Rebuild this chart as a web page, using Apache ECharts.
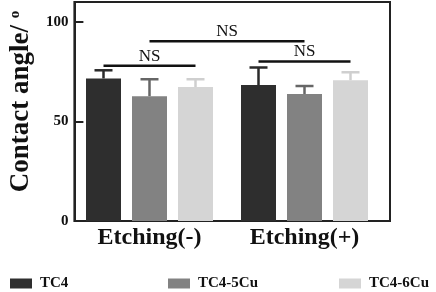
<!DOCTYPE html>
<html>
<head>
<meta charset="utf-8">
<script src="https://cdn.jsdelivr.net/npm/echarts@6/dist/echarts.min.js"></script>
<style>
  html, body { margin: 0; padding: 0; background: #fff; }
  #chart { width: 436px; height: 292px; }
</style>
</head>
<body>
<div id="chart"></div>
<script>
// data
const categories = ['Etching(-)', 'Etching(+)'];
const seriesNames = ['TC4', 'TC4-5Cu', 'TC4-6Cu'];
const tc4 = [71.6, 68.3];
const tc45Cu = [62.7, 63.8];
const tc46Cu = [67.3, 70.7];
const tc4Sd = [4.1, 8.8];
const tc45CuSd = [8.5, 4.0];
const tc46CuSd = [3.9, 4.0];
const yMax = 110;
const yStep = 50;
// significance brackets: [fromCategory, fromBar, toCategory, toBar, level]
const brackets = [
  [0, 0, 0, 2, 78],
  [0, 1, 1, 1, 90.3],
  [1, 0, 1, 2, 80.1]
];
const bracketLabel = 'NS';

const colors = ['#2e2e2e', '#828282', '#d5d5d5'];
const FONT = 'Liberation Serif';
const BAR_W = 35;
const BAR_GAP = 11;

const means = [tc4, tc45Cu, tc46Cu];
const sds = [tc4Sd, tc45CuSd, tc46CuSd];

const barOffset = (i) => (i - 1) * (BAR_W + BAR_GAP);

// error bar items: [category, barIndex, mean, sd]
const errData = [];
means.forEach((arr, s) => {
  arr.forEach((v, c) => errData.push([c, s, v, sds[s][c]]));
});

const chart = echarts.init(document.getElementById('chart'));

const legendAt = (name, left) => ({
  data: [name],
  left: left,
  top: 276,
  padding: 0,
  icon: 'rect',
  itemWidth: 22,
  itemHeight: 10,
  textStyle: {
    fontFamily: FONT,
    fontWeight: 'bold',
    fontSize: 15,
    color: '#111',
    padding: [0, 0, 0, 3]
  }
});

const option = {
  animation: false,
  backgroundColor: '#fff',
  grid: [
    { left: 61, right: 46, top: 2, bottom: 71, show: true, borderColor: '#222', borderWidth: 2 },
    { left: 72, right: 54, top: 2, bottom: 71 }
  ],
  legend: [
    legendAt('TC4', 10),
    legendAt('TC4-5Cu', 168),
    legendAt('TC4-6Cu', 339)
  ],
  xAxis: [
    { type: 'value', gridIndex: 0, show: false, min: 0, max: 1 },
    {
      type: 'category',
      gridIndex: 1,
      data: categories,
      axisLine: { show: false },
      axisTick: { show: false },
      axisLabel: {
        margin: 5,
        fontFamily: FONT,
        fontWeight: 'bold',
        fontSize: 24,
        color: '#111'
      }
    }
  ],
  yAxis: [
    {
      type: 'value',
      gridIndex: 0,
      min: 0,
      max: yMax,
      interval: yStep,
      name: 'Contact angle/ {sup|o}',
      nameLocation: 'middle',
      nameGap: 32,
      nameTextStyle: {
        fontFamily: FONT,
        fontWeight: 'bold',
        fontSize: 27,
        color: '#111',
        padding: [0, 0, 0, 20],
        rich: {
          sup: {
            fontFamily: FONT,
            fontWeight: 'bold',
            fontSize: 15,
            color: '#111',
            verticalAlign: 'top'
          }
        }
      },
      axisLine: { show: true, lineStyle: { color: '#222', width: 2 } },
      axisTick: { show: true, inside: true, length: 9, lineStyle: { color: '#222', width: 2 } },
      splitLine: { show: false },
      axisLabel: {
        margin: 6,
        fontFamily: FONT,
        fontWeight: 'bold',
        fontSize: 15,
        color: '#111',
        formatter: (v) => (v % yStep === 0 ? String(v) : '')
      }
    },
    { type: 'value', gridIndex: 1, min: 0, max: yMax, show: false }
  ],
  series: [
    ...seriesNames.map((name, i) => ({
      name: name,
      type: 'bar',
      xAxisIndex: 1,
      yAxisIndex: 1,
      data: means[i],
      barWidth: BAR_W,
      barGap: (BAR_GAP / BAR_W * 100) + '%',
      itemStyle: { color: colors[i] }
    })),
    {
      type: 'custom',
      xAxisIndex: 1,
      yAxisIndex: 1,
      data: errData,
      encode: { x: 0, y: 2 },
      z: 3,
      renderItem: function (params, api) {
        const c = api.value(0);
        const s = api.value(1);
        const m = api.value(2);
        const sd = api.value(3);
        const base = api.coord([c, m]);
        const top = api.coord([c, m + sd]);
        const x = base[0] + barOffset(s);
        const color = s === 2 ? '#cfcfcf' : (s === 1 ? '#666' : '#2a2a2a');
        const style = { stroke: color, lineWidth: 2.5 };
        return {
          type: 'group',
          children: [
            { type: 'line', shape: { x1: x, y1: base[1], x2: x, y2: top[1] }, style: style },
            { type: 'line', shape: { x1: x - 9, y1: top[1], x2: x + 9, y2: top[1] }, style: style }
          ]
        };
      }
    },
    {
      type: 'custom',
      xAxisIndex: 1,
      yAxisIndex: 1,
      data: brackets,
      encode: { x: [0, 2], y: 4 },
      z: 4,
      renderItem: function (params, api) {
        const level = api.value(4);
        const p1 = api.coord([api.value(0), level]);
        const p2 = api.coord([api.value(2), level]);
        const x1 = p1[0] + barOffset(api.value(1));
        const x2 = p2[0] + barOffset(api.value(3));
        return {
          type: 'group',
          children: [
            {
              type: 'line',
              shape: { x1: x1, y1: p1[1], x2: x2, y2: p1[1] },
              style: { stroke: '#111', lineWidth: 2.5 }
            },
            {
              type: 'text',
              x: (x1 + x2) / 2,
              y: p1[1] - 1,
              style: {
                text: bracketLabel,
                fontFamily: FONT,
                fontSize: 17,
                fill: '#111',
                align: 'center',
                verticalAlign: 'bottom'
              }
            }
          ]
        };
      }
    }
  ]
};

chart.setOption(option);
</script>
</body>
</html>
